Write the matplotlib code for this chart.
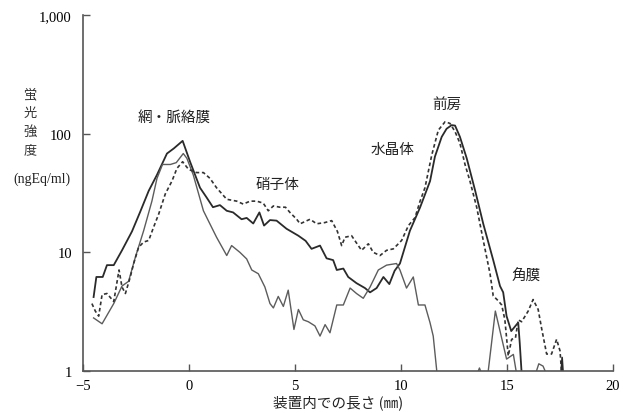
import numpy as np
import matplotlib
matplotlib.use("Agg")
import matplotlib.pyplot as plt

# curve 1: dark solid line
x_dark = [-4.5, -4.37, -4.07, -3.87, -3.55, -3.16, -2.69, -2.3, -1.9, -1.51, -1.04, -0.72, -0.3,
          0.05, 0.52, 0.83, 1.13, 1.46, 1.78, 2.08, 2.48, 2.72, 3.03, 3.32, 3.54, 3.82, 4.13, 4.6,
          5.16, 5.5, 5.78, 6.18, 6.49, 6.8, 6.97, 7.28, 7.51, 7.9, 8.3, 8.54, 8.85, 9.17, 9.45, 9.7,
          9.95, 10.42, 10.9, 11.37, 11.6, 11.92, 12.15, 12.39, 12.55, 12.78, 13.1, 13.5, 13.88,
          14.35, 14.67, 14.82, 14.98, 15.2, 15.45, 15.53, 15.6, 15.7]
y_dark = [4.2, 6.2, 6.2, 7.8, 7.8, 10.4, 15, 22, 33, 45, 68, 75, 87,
          58, 35, 29, 24, 25, 22.4, 21.7, 19, 19.5, 17.5, 21.7, 16.8, 18.7, 18.5, 15.8,
          13.8, 12.5, 10.7, 11.4, 8.9, 8.6, 7.1, 7.3, 6.2, 5.5, 5.0, 4.6, 5.0, 6.2, 5.4, 7.0,
          8.05, 15.2, 23.9, 39.8, 64, 94, 110, 118, 117, 94, 62, 33, 17.4,
          8.6, 5.2, 4.6, 2.9, 2.17, 2.46, 2.55, 1.73, 0.9]

# curve 2: grey solid line (nan = gap)
x_grey = [-4.5, -4.1, -3.55, -3.16, -2.85, -2.53, -2.14, -1.75, -1.51, -1.25, -0.88, -0.6, -0.27,
          -0.1, 0.2, 0.68, 0.91, 1.3, 1.78, 2.01, 2.4, 2.72, 2.96, 3.27, 3.58, 3.82, 3.98, 4.21,
          4.45, 4.68, 4.95, 5.16, 5.39, 5.63, 5.94, 6.18, 6.42, 6.65, 6.97, 7.28, 7.6, 7.9, 8.22,
          8.54, 8.93, 9.32, 9.79, 9.95, 10.26, 10.58, 10.82, 11.13, 11.37, 11.52, 11.7, np.nan,
          13.6, 13.7, 13.8, np.nan,
          14.1, 14.45, 14.98, 15.3, 15.45, np.nan,
          16.35, 16.5, 16.7, 16.85]
y_grey = [2.8, 2.5, 3.7, 5.2, 5.7, 9.1, 15.2, 27, 42, 55, 55, 57, 68,
          62, 45, 22.4, 18.5, 13.4, 9.4, 11.4, 10, 8.8, 7.1, 6.6, 5.1, 3.7, 3.4, 4.25,
          3.5, 4.8, 2.24, 3.3, 2.7, 2.6, 2.4, 1.97, 2.46, 2.1, 3.6, 3.6, 5.0, 4.5, 4.1,
          5.1, 7.1, 7.8, 8.05, 7.1, 5.0, 6.2, 3.6, 3.6, 2.55, 1.97, 0.95, np.nan,
          0.95, 1.06, 0.95, np.nan,
          0.95, 3.2, 1.26, 1.38, 0.95, np.nan,
          0.95, 1.15, 1.1, 0.95]

# curve 3: dashed line
x_dash = [-4.58, -4.42, -4.26, -4.1, -3.87, -3.55, -3.3, -3.16, -3.0, -2.77, -2.61, -2.38, -2.14,
          -1.9, -1.67, -1.43, -1.12, -0.8, -0.57, -0.3, -0.02, 0.36, 0.68, 0.99, 1.3, 1.78, 2.25,
          2.56, 2.88, 3.19, 3.5, 3.74, 3.98, 4.29, 4.55, 4.76, 5.08, 5.24, 5.71, 6.02, 6.4, 6.73,
          7.0, 7.2, 7.36, 7.67, 7.9, 8.14, 8.46, 8.69, 9.01, 9.32, 9.64, 10.03, 10.35, 10.66, 10.9,
          11.13, 11.45, 11.76, 12.08, 12.31, 12.55, 12.78, 13.02, 13.25, 13.57, 13.88, 14.2, 14.35,
          14.59, 14.75, 14.9, 15.06, 15.22, 15.4, 15.53, 15.69, 16.0, 16.23, 16.47, 16.63, 16.87,
          17.1, 17.34, 17.5, 17.58]
y_dash = [3.7, 3.2, 2.9, 4.4, 4.5, 3.85, 7.1, 5.1, 4.5, 6.2, 8.05, 11, 12.2,
          12.6, 16.3, 21, 31, 40, 51, 58, 50, 47, 47, 42, 35, 28, 27,
          25.5, 27, 27, 26, 22.4, 24.6, 24, 24, 21.7, 19, 17.4, 19, 17.4, 17.8, 18.5,
          15, 11.4, 13.4, 13.8, 12, 10.4, 11.8, 10, 9.4, 10.4, 10.7, 12.6, 16.8, 19.6, 27,
          35, 66, 107, 126, 122, 104, 83, 55, 40, 24, 12.6, 6.6, 4.3,
          3.9, 3.6, 2.7, 1.34, 1.85, 1.9, 2.7, 2.6, 3.2, 4.0, 3.3, 2.3, 1.39,
          1.39, 1.85, 1.48, 0.95]

# tiny dark bits near the axis at the far right
x_bits = [17.55, 17.6, 17.65]
y_bits = [0.95, 1.3, 0.95]

y_ticks = [1, 10, 100, 1000]
y_ticklabels = ["1", "10", "100", "1,000"]
x_ticks = [-5, 0, 5, 10, 15, 20]

labels = ["網・脈絡膜", "硝子体", "水晶体", "前房", "角膜"]
label_x = [-0.7, 4.15, 9.6, 12.15, 15.9]
label_y = [138, 37.6, 75, 179, 6.4]

jp = ["Noto Sans CJK JP", "DejaVu Sans"]
serif = ["Liberation Serif", "DejaVu Serif"]

fig = plt.figure(figsize=(6.29, 4.14), dpi=100)
ax = fig.add_axes([83 / 629, 42 / 414, 530 / 629, 356 / 414])

ax.plot(x_dark, y_dark, color="#2a2a2a", lw=1.3)
ax.plot(x_grey, y_grey, color="#5c5c5c", lw=1.0)
ax.plot(x_dash, y_dash, color="#333333", lw=1.2, linestyle=(0, (2.2, 1.6)))
ax.plot(x_bits, y_bits, color="#2a2a2a", lw=1.2)

ax.set_yscale("log")
ax.set_ylim(1, 1000)
ax.set_xlim(-5, 20)
ax.set_yticks(y_ticks)
ax.set_yticklabels(y_ticklabels, fontfamily=serif, fontsize=10.5)
ax.yaxis.set_minor_locator(matplotlib.ticker.NullLocator())
ax.set_xticks(x_ticks)
ax.set_xticklabels([str(v) if v >= 0 else "\u2212" + str(-v) for v in x_ticks],
                   fontfamily=serif, fontsize=10.5)
ax.tick_params(direction="in", length=5, width=1, color="#555555")
ax.tick_params(axis="y", pad=8)
ax.tick_params(axis="x", pad=6)

for side in ("top", "right"):
    ax.spines[side].set_visible(False)
for side in ("left", "bottom"):
    ax.spines[side].set_color("#555555")
    ax.spines[side].set_linewidth(1.2)

for txt, lx, ly in zip(labels, label_x, label_y):
    ax.text(lx, ly, txt, family=jp, fontsize=10.5, ha="center", va="center", color="#222222")

# y label: vertical kanji + unit
for i, ch in enumerate("蛍光強度"):
    fig.text(30 / 629, 1 - (95 + i * 18.5) / 414, ch, family=jp, fontsize=9.5,
             ha="center", va="center", color="#333333")
fig.text(42 / 629, 1 - 179 / 414, "(ngEq/ml)", family=serif, fontsize=10,
         ha="center", va="center", color="#222222")

fig.text(338 / 629, 1 - 403 / 414, "装置内での長さ (㎜)", family=jp, fontsize=10.5,
         ha="center", va="center", color="#222222")

fig.savefig("out.png", dpi=100)
